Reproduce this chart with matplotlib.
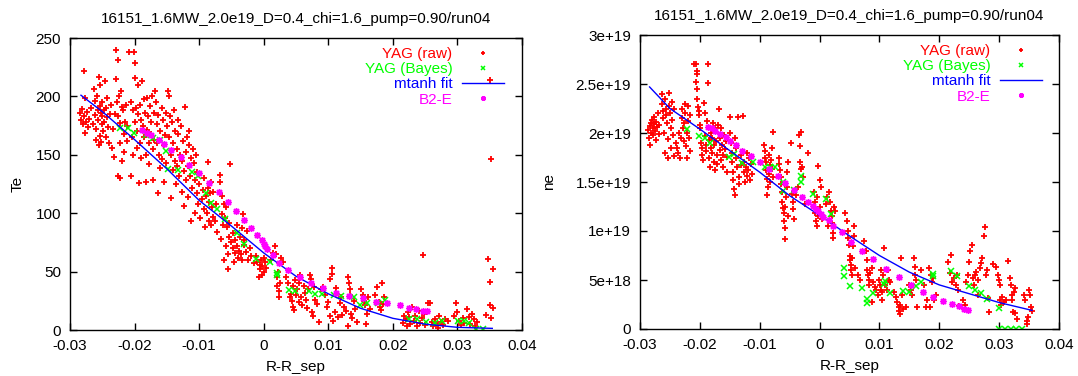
import matplotlib
matplotlib.use('agg')
import matplotlib.pyplot as plt
import numpy as np
from matplotlib.ticker import FuncFormatter

plt.rcParams['font.family'] = ['Liberation Sans', 'DejaVu Sans']

title = "16151_1.6MW_2.0e19_D=0.4_chi=1.6_pump=0.90/run04"

# ---- Te panel data (eV) ----
te_raw = [
    (-0.0285, 186), (-0.0283, 180), (-0.0282, 189), (-0.0280, 176), (-0.0279, 222), (-0.0278, 183),
    (-0.0277, 169), (-0.0276, 199), (-0.0275, 178), (-0.0273, 187), (-0.0272, 174), (-0.0271, 181),
    (-0.0268, 190), (-0.0265, 176), (-0.0263, 206), (-0.0262, 184), (-0.0261, 196), (-0.0260, 172),
    (-0.0259, 163), (-0.0258, 200), (-0.0257, 188), (-0.0256, 180), (-0.0255, 217), (-0.0255, 158),
    (-0.0254, 192), (-0.0254, 166), (-0.0253, 210), (-0.0252, 186), (-0.0252, 161), (-0.0251, 176),
    (-0.0250, 195), (-0.0250, 183), (-0.0249, 170), (-0.0248, 188), (-0.0247, 178), (-0.0246, 213),
    (-0.0245, 190), (-0.0244, 165), (-0.0243, 182), (-0.0242, 199), (-0.0241, 174), (-0.0240, 160),
    (-0.0238, 185), (-0.0236, 193), (-0.0235, 156), (-0.0233, 172), (-0.0232, 148), (-0.0231, 185),
    (-0.0229, 240), (-0.0228, 215), (-0.0227, 195), (-0.0226, 183), (-0.0225, 231), (-0.0225, 132),
    (-0.0224, 200), (-0.0223, 177), (-0.0222, 130), (-0.0222, 160), (-0.0221, 205), (-0.0220, 191),
    (-0.0219, 145), (-0.0218, 188), (-0.0217, 168), (-0.0216, 152), (-0.0215, 178), (-0.0213, 193),
    (-0.0212, 162), (-0.0211, 175), (-0.0208, 238), (-0.0206, 195), (-0.0205, 132), (-0.0204, 165),
    (-0.0203, 188), (-0.0202, 150), (-0.0201, 238), (-0.0200, 216), (-0.0200, 178), (-0.0199, 229),
    (-0.0198, 190), (-0.0197, 170), (-0.0196, 156), (-0.0195, 185), (-0.0194, 210), (-0.0193, 126),
    (-0.0192, 160), (-0.0191, 193), (-0.0190, 180), (-0.0190, 147), (-0.0188, 213), (-0.0187, 175),
    (-0.0186, 165), (-0.0185, 198), (-0.0184, 186), (-0.0183, 150), (-0.0182, 127), (-0.0181, 171),
    (-0.0180, 199), (-0.0179, 183), (-0.0178, 160), (-0.0177, 142), (-0.0176, 192), (-0.0175, 168),
    (-0.0174, 178), (-0.0173, 200), (-0.0172, 155), (-0.0171, 128), (-0.0170, 186), (-0.0170, 163),
    (-0.0168, 205), (-0.0167, 195), (-0.0166, 176), (-0.0165, 160), (-0.0164, 117), (-0.0163, 184),
    (-0.0162, 150), (-0.0161, 139), (-0.0160, 170), (-0.0158, 190), (-0.0157, 146), (-0.0156, 180),
    (-0.0155, 158), (-0.0154, 127), (-0.0153, 167), (-0.0152, 186), (-0.0151, 143), (-0.0150, 175),
    (-0.0148, 205), (-0.0147, 200), (-0.0146, 165), (-0.0145, 183), (-0.0144, 113), (-0.0143, 150),
    (-0.0142, 178), (-0.0141, 160), (-0.0140, 137), (-0.0139, 188), (-0.0138, 145), (-0.0137, 170),
    (-0.0136, 125), (-0.0135, 155), (-0.0134, 140), (-0.0133, 168), (-0.0132, 180), (-0.0131, 132),
    (-0.0130, 150), (-0.0128, 175), (-0.0127, 118), (-0.0126, 145), (-0.0125, 162), (-0.0124, 106),
    (-0.0123, 136), (-0.0122, 191), (-0.0121, 152), (-0.0120, 128), (-0.0119, 165), (-0.0118, 140),
    (-0.0117, 114), (-0.0116, 158), (-0.0115, 170), (-0.0114, 132), (-0.0113, 147), (-0.0112, 93),
    (-0.0111, 122), (-0.0110, 155), (-0.0108, 143), (-0.0107, 128), (-0.0106, 100), (-0.0105, 150),
    (-0.0104, 117), (-0.0103, 135), (-0.0102, 108), (-0.0100, 125), (-0.0098, 96), (-0.0096, 112),
    (-0.0094, 120), (-0.0093, 104), (-0.0092, 130), (-0.0091, 88), (-0.0090, 115), (-0.0088, 100),
    (-0.0087, 144), (-0.0086, 122), (-0.0085, 93), (-0.0084, 110), (-0.0083, 117), (-0.0082, 90),
    (-0.0081, 127), (-0.0080, 105), (-0.0079, 97), (-0.0078, 118), (-0.0076, 93), (-0.0074, 108),
    (-0.0072, 84), (-0.0068, 133), (-0.0067, 127), (-0.0066, 78), (-0.0065, 115), (-0.0064, 99),
    (-0.0063, 90), (-0.0062, 108), (-0.0061, 60), (-0.0060, 96), (-0.0059, 105), (-0.0058, 72),
    (-0.0057, 88), (-0.0056, 65), (-0.0055, 52), (-0.0054, 80), (-0.0053, 92), (-0.0052, 142),
    (-0.0051, 75), (-0.0048, 70), (-0.0047, 83), (-0.0046, 58), (-0.0045, 77), (-0.0044, 66),
    (-0.0042, 90), (-0.0041, 72), (-0.0040, 62), (-0.0038, 68), (-0.0036, 80), (-0.0035, 65),
    (-0.0034, 87), (-0.0033, 60), (-0.0032, 99), (-0.0031, 73), (-0.0030, 77), (-0.0028, 67),
    (-0.0026, 85), (-0.0024, 60), (-0.0022, 70), (-0.0020, 63), (-0.0015, 57), (-0.0012, 63),
    (-0.0010, 58), (-0.0008, 45), (-0.0006, 52), (-0.0005, 56), (-0.0004, 60), (-0.0003, 47),
    (-0.0002, 55), (0.0000, 62), (0.0001, 50), (0.0002, 58), (0.0003, 53), (0.0012, 60),
    (0.0015, 66), (0.0018, 72), (0.0019, 65), (0.0020, 45), (0.0021, 38), (0.0022, 50),
    (0.0023, 28), (0.0024, 33), (0.0025, 40), (0.0027, 62), (0.0030, 58), (0.0035, 45),
    (0.0038, 40), (0.0040, 28), (0.0042, 31), (0.0044, 25), (0.0045, 20), (0.0046, 38),
    (0.0047, 17), (0.0048, 43), (0.0050, 30), (0.0052, 35), (0.0054, 24), (0.0055, 40),
    (0.0056, 47), (0.0058, 28), (0.0060, 21), (0.0062, 38), (0.0064, 32), (0.0066, 26),
    (0.0067, 19), (0.0068, 35), (0.0072, 47), (0.0074, 44), (0.0075, 15), (0.0077, 12),
    (0.0078, 37), (0.0080, 26), (0.0082, 22), (0.0085, 7), (0.0088, 35), (0.0092, 37),
    (0.0095, 30), (0.0098, 20), (0.0100, 24), (0.0102, 12), (0.0103, 44), (0.0105, 53),
    (0.0106, 48), (0.0108, 8), (0.0110, 15), (0.0112, 36), (0.0115, 11), (0.0118, 23),
    (0.0120, 28), (0.0122, 13), (0.0125, 20), (0.0128, 16), (0.0130, 3), (0.0131, 45),
    (0.0132, 40), (0.0133, 35), (0.0134, 30), (0.0135, 14), (0.0137, 10), (0.0140, 25),
    (0.0142, 18), (0.0145, 7), (0.0151, 35), (0.0153, 30), (0.0155, 25), (0.0157, 21),
    (0.0158, 5), (0.0160, 14), (0.0162, 28), (0.0165, 18), (0.0172, 30), (0.0175, 37),
    (0.0178, 24), (0.0180, 20), (0.0182, 17), (0.0183, 40), (0.0185, 22), (0.0187, 28),
    (0.0215, 6), (0.0218, 12), (0.0220, 9), (0.0222, 3), (0.0223, 15), (0.0225, 11),
    (0.0227, 5), (0.0230, 20), (0.0232, 8), (0.0235, 12), (0.0238, 3), (0.0240, 16),
    (0.0242, 6), (0.0245, 10), (0.0247, 64), (0.0248, 14), (0.0250, 4), (0.0255, 23),
    (0.0258, 23), (0.0260, 7), (0.0262, 3), (0.0265, 9), (0.0268, 5), (0.0270, 2),
    (0.0272, 12), (0.0275, 7), (0.0278, 4), (0.0280, 9), (0.0285, 8), (0.0295, 12),
    (0.0298, 23), (0.0300, 15), (0.0302, 8), (0.0305, 4), (0.0308, 10), (0.0310, 6),
    (0.0315, 18), (0.0318, 11), (0.0320, 5), (0.0322, 14), (0.0325, 9), (0.0327, 3),
    (0.0330, 7), (0.0345, 13), (0.0348, 61), (0.0350, 41), (0.0350, 21), (0.0352, 146),
    (0.0352, 10), (0.0355, 52), (0.0355, 19), (0.0350, 214),
]

te_bayes_x = [-0.0223, -0.0210, -0.0201, -0.0182, -0.0172, -0.0161, -0.0151, -0.0148, -0.0132,
              -0.0111, -0.0101, -0.0090, -0.0081, -0.0072, -0.0060, -0.0041, -0.0030, -0.0012,
              0.0009, 0.0021, 0.0021, 0.0039, 0.0049, 0.0070, 0.0079, 0.0090, 0.0109, 0.0120,
              0.0140, 0.0149, 0.0160, 0.0177, 0.0188, 0.0225, 0.0237, 0.0251, 0.0265, 0.0276,
              0.0301, 0.0310, 0.0318, 0.0329, 0.0340]
te_bayes_y = [173, 173, 169, 167, 164, 163, 153, 138, 137, 135, 132, 117, 109, 104, 95, 83, 74, 61,
              58, 49, 47, 34, 33, 33, 31, 31, 30, 29, 28, 21, 23, 23, 26, 9, 9, 7, 6, 8, 8, 8, 6,
              0.6, 0.6]

te_fit_x = [-0.0283, -0.025, -0.020, -0.015, -0.010, -0.005, 0.000, 0.005, 0.010, 0.015,
            0.020, 0.025, 0.030, 0.0354]
te_fit_y = [201, 187, 163, 138, 111, 89, 66, 46, 31, 18.6, 10, 5, 2.3, 1.4]

te_b2e_x = [-0.0188, -0.0181, -0.0175, -0.0162, -0.0154, -0.0143, -0.0128, -0.0116, -0.0100,
            -0.0085, -0.0070, -0.0056, -0.0043, -0.0030, -0.0020, -0.0010, -0.0003, 0.0000,
            0.0002, 0.0005, 0.0014, 0.0024, 0.0038, 0.0056, 0.0074, 0.0092, 0.0112, 0.0132,
            0.0154, 0.0174, 0.0191, 0.0211, 0.0225, 0.0236, 0.0247, 0.0253]
te_b2e_y = [171, 169, 167, 163, 159, 154, 148, 141, 134, 126, 118, 110, 102, 94, 87, 81, 77, 74,
            72, 69, 64, 57, 51, 45, 40, 36, 32, 29, 27, 24, 23, 21, 19, 18, 16, 16]

# ---- ne panel data (1e19 m^-3) ----
ne_raw = [
    (-0.0287, 2.03), (-0.0285, 1.95), (-0.0284, 1.88), (-0.0283, 2.07), (-0.0282, 2.10), (-0.0281, 2.00),
    (-0.0280, 2.13), (-0.0279, 2.05), (-0.0278, 1.98), (-0.0277, 2.16), (-0.0276, 2.09), (-0.0275, 2.02),
    (-0.0274, 1.93), (-0.0273, 2.11), (-0.0272, 2.06), (-0.0270, 2.20), (-0.0269, 1.99), (-0.0268, 2.08),
    (-0.0264, 2.40), (-0.0263, 2.30), (-0.0262, 2.22), (-0.0261, 2.15), (-0.0260, 2.00), (-0.0259, 1.80),
    (-0.0258, 2.35), (-0.0257, 2.25), (-0.0256, 2.18), (-0.0255, 2.10), (-0.0254, 1.94), (-0.0253, 1.75),
    (-0.0252, 2.41), (-0.0251, 2.28), (-0.0250, 2.20), (-0.0249, 2.05), (-0.0248, 1.85), (-0.0247, 2.32),
    (-0.0246, 2.13), (-0.0245, 1.98), (-0.0244, 1.77), (-0.0243, 2.24), (-0.0240, 1.90), (-0.0238, 1.85),
    (-0.0236, 1.80), (-0.0235, 2.00), (-0.0234, 1.75), (-0.0232, 1.95), (-0.0230, 2.15), (-0.0229, 2.25),
    (-0.0228, 2.05), (-0.0227, 2.10), (-0.0226, 1.92), (-0.0225, 2.20), (-0.0224, 2.30), (-0.0223, 1.87),
    (-0.0222, 2.00), (-0.0221, 1.75), (-0.0220, 2.12), (-0.0219, 2.28), (-0.0218, 1.95), (-0.0217, 1.82),
    (-0.0216, 2.18), (-0.0210, 2.70), (-0.0207, 2.70), (-0.0205, 2.63), (-0.0205, 2.60), (-0.0206, 2.52),
    (-0.0205, 2.45), (-0.0204, 2.35), (-0.0203, 2.27), (-0.0202, 2.22), (-0.0201, 2.18), (-0.0200, 2.08),
    (-0.0199, 2.05), (-0.0198, 1.90), (-0.0197, 1.85), (-0.0196, 1.78), (-0.0195, 1.72), (-0.0193, 2.31),
    (-0.0192, 2.20), (-0.0191, 1.97), (-0.0190, 1.82), (-0.0189, 1.88), (-0.0188, 2.12), (-0.0187, 2.70),
    (-0.0186, 2.51), (-0.0185, 1.93), (-0.0184, 1.75), (-0.0183, 1.65), (-0.0182, 2.00), (-0.0181, 1.85),
    (-0.0180, 1.95), (-0.0179, 1.80), (-0.0178, 2.10), (-0.0177, 1.70), (-0.0176, 1.88), (-0.0175, 1.62),
    (-0.0174, 2.05), (-0.0173, 1.92), (-0.0172, 1.78), (-0.0171, 1.68), (-0.0170, 2.08), (-0.0168, 2.25),
    (-0.0167, 1.83), (-0.0166, 1.95), (-0.0165, 1.72), (-0.0164, 2.05), (-0.0163, 1.88), (-0.0162, 1.78),
    (-0.0161, 1.65), (-0.0160, 1.98), (-0.0158, 1.84), (-0.0156, 1.92), (-0.0155, 1.76), (-0.0154, 1.60),
    (-0.0150, 2.16), (-0.0149, 2.00), (-0.0148, 1.90), (-0.0147, 1.80), (-0.0146, 1.70), (-0.0145, 1.60),
    (-0.0144, 1.52), (-0.0143, 1.43), (-0.0142, 1.37), (-0.0141, 1.95), (-0.0140, 1.85), (-0.0139, 1.75),
    (-0.0138, 1.65), (-0.0137, 2.16), (-0.0135, 1.48), (-0.0134, 1.55), (-0.0132, 1.67), (-0.0131, 1.78),
    (-0.0128, 2.17), (-0.0127, 1.60), (-0.0126, 1.70), (-0.0125, 1.50), (-0.0123, 1.65), (-0.0122, 1.80),
    (-0.0121, 1.56), (-0.0120, 1.62), (-0.0118, 1.75), (-0.0117, 1.52), (-0.0115, 1.68), (-0.0113, 1.58),
    (-0.0093, 1.88), (-0.0092, 1.82), (-0.0091, 1.75), (-0.0090, 1.70), (-0.0089, 1.62), (-0.0088, 1.53),
    (-0.0087, 1.37), (-0.0086, 1.45), (-0.0085, 1.58), (-0.0084, 1.78), (-0.0083, 1.67), (-0.0082, 1.50),
    (-0.0081, 1.72), (-0.0080, 1.63), (-0.0079, 1.85), (-0.0078, 2.01), (-0.0077, 1.55), (-0.0068, 1.75),
    (-0.0067, 1.68), (-0.0066, 1.62), (-0.0065, 1.55), (-0.0064, 1.48), (-0.0063, 1.40), (-0.0062, 1.30),
    (-0.0061, 1.23), (-0.0060, 1.18), (-0.0059, 1.10), (-0.0058, 1.03), (-0.0058, 0.92), (-0.0057, 1.25),
    (-0.0056, 1.35), (-0.0055, 1.45), (-0.0054, 1.60), (-0.0053, 1.70), (-0.0052, 1.15), (-0.0048, 1.90),
    (-0.0046, 1.38), (-0.0045, 1.30), (-0.0044, 1.22), (-0.0043, 1.12), (-0.0040, 1.37), (-0.0036, 1.45),
    (-0.0034, 1.98), (-0.0033, 1.87), (-0.0032, 1.70), (-0.0031, 1.63), (-0.0031, 2.01), (-0.0030, 1.65),
    (-0.0028, 1.55), (-0.0025, 1.28), (-0.0020, 1.80), (-0.0010, 1.40), (-0.0008, 1.30), (-0.0007, 1.18),
    (-0.0006, 1.10), (-0.0005, 1.05), (-0.0004, 1.35), (-0.0003, 1.66), (-0.0002, 1.15), (0.0000, 1.52),
    (0.0001, 1.25), (0.0003, 1.45), (0.0004, 1.12), (0.0010, 1.28), (0.0012, 1.35), (0.0014, 1.05),
    (0.0016, 1.40), (0.0018, 1.30), (0.0019, 1.20), (0.0020, 1.15), (0.0021, 1.08), (0.0022, 0.98),
    (0.0023, 0.93), (0.0024, 1.25), (0.0026, 1.20), (0.0043, 1.18), (0.0045, 1.10), (0.0047, 1.00),
    (0.0048, 0.93), (0.0049, 0.86), (0.0050, 0.75), (0.0051, 0.70), (0.0052, 0.65), (0.0053, 0.60),
    (0.0054, 0.55), (0.0055, 0.72), (0.0056, 0.85), (0.0057, 0.95), (0.0058, 1.05), (0.0059, 0.62),
    (0.0065, 0.55), (0.0068, 0.50), (0.0075, 0.90), (0.0078, 0.80), (0.0079, 0.70), (0.0080, 0.60),
    (0.0081, 0.55), (0.0082, 0.50), (0.0083, 0.45), (0.0085, 0.57), (0.0087, 0.62), (0.0088, 0.28),
    (0.0090, 0.48), (0.0092, 0.43), (0.0095, 0.40), (0.0098, 0.35), (0.0100, 0.50), (0.0101, 0.45),
    (0.0102, 0.40), (0.0103, 0.60), (0.0104, 0.38), (0.0105, 0.30), (0.0106, 0.55), (0.0108, 0.83),
    (0.0110, 0.45), (0.0112, 0.40), (0.0114, 0.60), (0.0116, 0.50), (0.0118, 0.48), (0.0125, 0.38),
    (0.0128, 0.33), (0.0130, 0.28), (0.0132, 0.22), (0.0133, 0.18), (0.0134, 0.15), (0.0135, 0.25),
    (0.0136, 0.72), (0.0138, 0.35), (0.0140, 0.20), (0.0145, 0.22), (0.0150, 0.45), (0.0152, 0.40),
    (0.0155, 0.35), (0.0158, 0.72), (0.0159, 0.63), (0.0160, 0.55), (0.0161, 0.50), (0.0162, 0.22),
    (0.0170, 0.60), (0.0175, 0.45), (0.0178, 0.22), (0.0180, 0.30), (0.0182, 0.62), (0.0184, 0.22),
    (0.0186, 0.55), (0.0188, 0.48), (0.0190, 0.52), (0.0192, 0.30), (0.0194, 0.35), (0.0215, 0.68),
    (0.0218, 0.57), (0.0220, 0.76), (0.0222, 0.48), (0.0225, 0.52), (0.0228, 0.45), (0.0230, 0.55),
    (0.0232, 0.40), (0.0233, 0.23), (0.0240, 0.30), (0.0243, 0.25), (0.0245, 0.48), (0.0248, 0.55),
    (0.0250, 0.68), (0.0252, 0.80), (0.0254, 0.86), (0.0256, 0.52), (0.0258, 0.45), (0.0260, 0.55),
    (0.0262, 0.58), (0.0264, 0.35), (0.0265, 0.50), (0.0268, 0.62), (0.0270, 0.67), (0.0272, 0.72),
    (0.0274, 0.95), (0.0276, 1.04), (0.0278, 0.55), (0.0280, 0.60), (0.0282, 0.32), (0.0283, 0.17),
    (0.0290, 0.66), (0.0295, 0.63), (0.0298, 0.55), (0.0300, 0.50), (0.0301, 0.45), (0.0302, 0.30),
    (0.0303, 0.24), (0.0305, 0.33), (0.0308, 0.28), (0.0312, 0.30), (0.0315, 0.69), (0.0318, 0.52),
    (0.0320, 0.45), (0.0321, 0.35), (0.0322, 0.30), (0.0323, 0.17), (0.0325, 0.38), (0.0326, 0.42),
    (0.0327, 0.16), (0.0330, 0.10), (0.0342, 0.35), (0.0344, 0.30), (0.0346, 0.05), (0.0347, 0.08),
    (0.0348, 0.12), (0.0350, 0.40), (0.0352, 0.35), (0.0354, 0.22), (0.0355, 0.18),
]

ne_bayes_x = [-0.0221, -0.0201, -0.0192, -0.0183, -0.0152, -0.0143, -0.0129, -0.0111, -0.0091,
              -0.0083, -0.0074, -0.0061, -0.0061, -0.0043, -0.0031, -0.0031, -0.0011, 0.0010,
              0.0019, 0.0040, 0.0040, 0.0051, 0.0071, 0.0080, 0.0080, 0.0090, 0.0107, 0.0110,
              0.0118, 0.0140, 0.0150, 0.0161, 0.0169, 0.0189, 0.0189, 0.0219, 0.0229, 0.0249,
              0.0259, 0.0270, 0.0279, 0.0299, 0.0299, 0.0310, 0.0320, 0.0328, 0.0339]
ne_bayes_y = [2.04, 1.97, 1.95, 1.90, 1.76, 1.79, 1.69, 1.70, 1.65, 1.65, 1.65, 1.50, 1.41, 1.42,
              1.50, 1.56, 1.38, 1.33, 1.17, 0.62, 0.54, 0.44, 0.42, 0.31, 0.27, 0.37, 0.46, 0.49,
              0.37, 0.39, 0.38, 0.44, 0.48, 0.56, 0.54, 0.59, 0.54, 0.44, 0.40, 0.37, 0.31, 0.21,
              0.0, 0.0, 0.0, 0.0, 0.0]

ne_fit_x = [-0.0284, -0.025, -0.020, -0.015, -0.010, -0.005, 0.000, 0.005, 0.010, 0.015,
            0.020, 0.025, 0.030, 0.0355]
ne_fit_y = [2.47, 2.25, 2.04, 1.82, 1.60, 1.36, 1.16, 0.95, 0.75, 0.58, 0.45, 0.36, 0.27, 0.19]

ne_b2e_x = [-0.0186, -0.0180, -0.0175, -0.0166, -0.0157, -0.0149, -0.0140, -0.0129, -0.0114,
            -0.0100, -0.0084, -0.0070, -0.0057, -0.0043, -0.0029, -0.0020, -0.0011, -0.0006,
            -0.0002, 0.0002, 0.0006, 0.0015, 0.0022, 0.0037, 0.0052, 0.0071, 0.0090, 0.0111,
            0.0132, 0.0153, 0.0172, 0.0190, 0.0207, 0.0221, 0.0233, 0.0242, 0.0248]
ne_b2e_y = [2.06, 2.05, 2.02, 1.99, 1.96, 1.92, 1.88, 1.82, 1.77, 1.70, 1.63, 1.56, 1.49, 1.42,
            1.35, 1.30, 1.26, 1.22, 1.20, 1.17, 1.14, 1.11, 1.05, 0.99, 0.89, 0.80, 0.71, 0.61,
            0.53, 0.45, 0.38, 0.33, 0.29, 0.26, 0.23, 0.20, 0.19]

RED = '#ff0000'
GREEN = '#00ff00'
BLUE = '#0000ff'
MAGENTA = '#ff00ff'
FS = 11


def gfmt(v, pos):
    return '%g' % v


def draw_panel(ax, raw, bx, by, fx, fy, ex, ey, scale, ylabel, ymax, ystep, ylabx):
    raw = np.array(raw)
    h1, = ax.plot(raw[:, 0], raw[:, 1] * scale, '+', color=RED, ms=5, mew=1.3, ls='none',
                  label='YAG (raw)')
    h2, = ax.plot(bx, np.array(by) * scale, 'x', color=GREEN, ms=4, mew=1.1, ls='none',
                  label='YAG (Bayes)')
    h3, = ax.plot(fx, np.array(fy) * scale, '-', color=BLUE, lw=1.0, label='mtanh fit')
    h4, = ax.plot(ex, np.array(ey) * scale, marker=(8, 2, 0), color=MAGENTA, ms=5, mew=1.0,
                  ls='none', label='B2-E')
    ax.set_xlim(-0.03, 0.04)
    ax.set_ylim(0, ymax)
    ax.set_xticks(np.arange(-0.03, 0.0401, 0.01))
    ax.set_yticks(np.arange(0, ymax + ystep / 2, ystep))
    ax.xaxis.set_major_formatter(FuncFormatter(lambda v, p: '%g' % round(v, 3)))
    ax.yaxis.set_major_formatter(FuncFormatter(gfmt))
    ax.tick_params(direction='in', top=True, right=True, length=5, width=1,
                   labelsize=FS, pad=6.5)
    for s in ax.spines.values():
        s.set_linewidth(1)
    ax.set_xlabel('R-R_sep', fontsize=FS, labelpad=5)
    ax.set_ylabel(ylabel, fontsize=FS)
    ax.yaxis.set_label_coords(ylabx, 0.5)
    ax.set_title(title, fontsize=FS, pad=11)
    ax.legend(handles=[h1, h2, h3, h4], loc='upper right', bbox_to_anchor=(0.973, 0.99),
              borderaxespad=0, frameon=False, markerfirst=False, markerscale=0.7,
              labelcolor=[RED, GREEN, BLUE, MAGENTA], fontsize=FS, handlelength=2.7,
              handletextpad=0.65, labelspacing=0.08)


fig = plt.figure(figsize=(10.78, 3.76), dpi=100)
ax1 = fig.add_axes([70 / 1078, 1 - 330 / 376, 452 / 1078, 292 / 376])
ax2 = fig.add_axes([640 / 1078, 1 - 329 / 376, 419 / 1078, 294 / 376])

draw_panel(ax1, te_raw, te_bayes_x, te_bayes_y, te_fit_x, te_fit_y, te_b2e_x, te_b2e_y,
           1.0, 'Te', 250, 50, -0.1)
draw_panel(ax2, ne_raw, ne_bayes_x, ne_bayes_y, ne_fit_x, ne_fit_y, ne_b2e_x, ne_b2e_y,
           1e19, 'ne', 3e19, 5e18, -0.2)

fig.savefig('out.png', dpi=100)
